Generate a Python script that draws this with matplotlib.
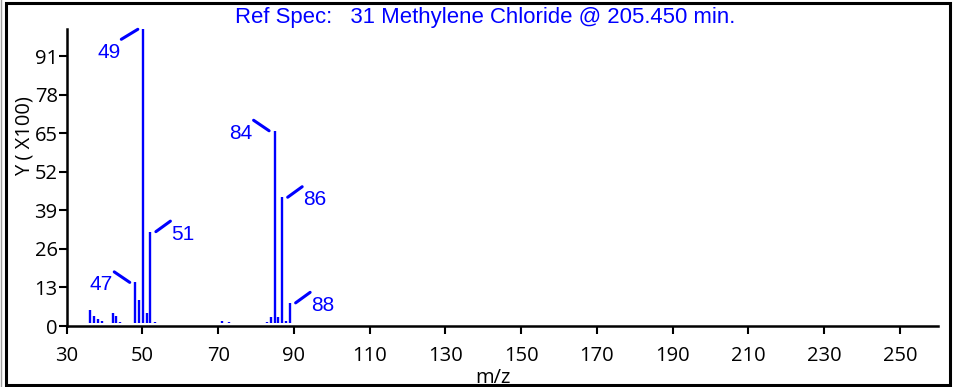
import matplotlib
matplotlib.use("Agg")
import matplotlib.pyplot as plt
from matplotlib.transforms import ScaledTranslation
from matplotlib.patches import Rectangle
from matplotlib.lines import Line2D

# ---- data ----
mz = [36.2, 37.2, 38.2, 39.2, 42.2, 43.1, 44.1,
      48.1, 49.2, 50.1, 51.1, 52.1, 53.2,
      71.1, 72.9,
      83.0, 83.9, 84.9, 85.9, 86.9, 87.9, 89.0]
intensity = [5.3, 3.4, 2.3, 1.7, 4.5, 3.4, 1.5,
             14.7, 8.8, 100.0, 4.3, 31.8, 1.5,
             1.6, 1.4,
             1.3, 3.1, 65.8, 2.9, 43.4, 1.6, 7.8]
baseline = 1.1

# labelled peaks: index into mz, label text, placement
peak_idx = [7, 9, 11, 17, 19, 21]
peak_text = ["47", "49", "51", "84", "86", "88"]
peak_side = ["left", "leftdown", "right", "left", "right", "right"]

xticks = [30, 50, 70, 90, 110, 130, 150, 170, 190, 210, 230, 250]
yticks = [0, 13, 26, 39, 52, 65, 78, 91]

title = "Ref Spec:   31 Methylene Chloride @ 205.450 min."
xlabel = "m/z"
ylabel = "Y ( X100)"

BLUE = "#0000ff"
W, H = 955, 387

fig = plt.figure(figsize=(W / 100, H / 100), dpi=100)
ax = fig.add_axes([66.7 / W, 1 - 326 / H, 871 / W, 296.7 / H])

ax.vlines(mz, baseline, intensity, colors=BLUE, lw=1.7, clip_on=False)

ax.set_xlim(30, 260)
ax.set_ylim(0, 100)
for s in ("top", "right"):
    ax.spines[s].set_visible(False)
for s in ("left", "bottom"):
    ax.spines[s].set_linewidth(1.8)
ax.set_xticks(xticks)
ax.set_yticks(yticks)
tickfont = "Open Sans"
ax.tick_params(axis="both", direction="out", length=6, width=1.5, labelsize=14.5)
ax.tick_params(axis="y", pad=0.5)
ax.tick_params(axis="x", pad=8.5)
for lab in ax.get_xticklabels() + ax.get_yticklabels():
    lab.set_family(tickfont)

ax.set_xlabel(xlabel, fontsize=14.5, family=tickfont, va="center")
ax.xaxis.set_label_coords(0.489, -0.175)
ax.set_ylabel(ylabel, fontsize=14.5, family=tickfont, va="center")
ax.yaxis.set_label_coords(-0.048, 0.64)


def px(dx, dy):
    return ax.transData + ScaledTranslation(dx / fig.dpi, dy / fig.dpi, fig.dpi_scale_trans)


for i, txt, side in zip(peak_idx, peak_text, peak_side):
    x, y = mz[i], intensity[i]
    if side == "right":
        p0, p1, tpos, ha = (5.5, 0), (20, 10.5), (21, -2.5), "left"
    elif side == "left":
        p0, p1, tpos, ha = (-5.5, 0), (-21, 10.5), (-22, -2.5), "right"
    else:
        p0, p1, tpos, ha = (-5, 0), (-21.5, -10), (-22, -23), "right"
    ax.annotate("", xy=(x, y), xycoords=px(*p0), xytext=(x, y), textcoords=px(*p1),
                arrowprops=dict(arrowstyle="-", lw=2.2, color=BLUE,
                                shrinkA=0, shrinkB=0), annotation_clip=False)
    ax.text(x, y, txt, transform=px(*tpos), ha=ha, va="center", fontsize=15,
            color=BLUE, family="Liberation Sans", clip_on=False)

fig.text(485 / W, 1 - 17.5 / H, title, ha="center", va="center", fontsize=15.9,
         color=BLUE, family="Liberation Sans")

# outer frame
fig.add_artist(Rectangle((6.2 / W, 2.0 / H), (950 - 6.2) / W, (384.5 - 2.0) / H,
                         transform=fig.transFigure, fill=False, ec="black", lw=2.2))
fig.add_artist(Line2D([0.8 / W, 0.8 / W], [0, 1], transform=fig.transFigure,
                      color="#a0a0a0", lw=1))

fig.savefig("out.png", dpi=100)
